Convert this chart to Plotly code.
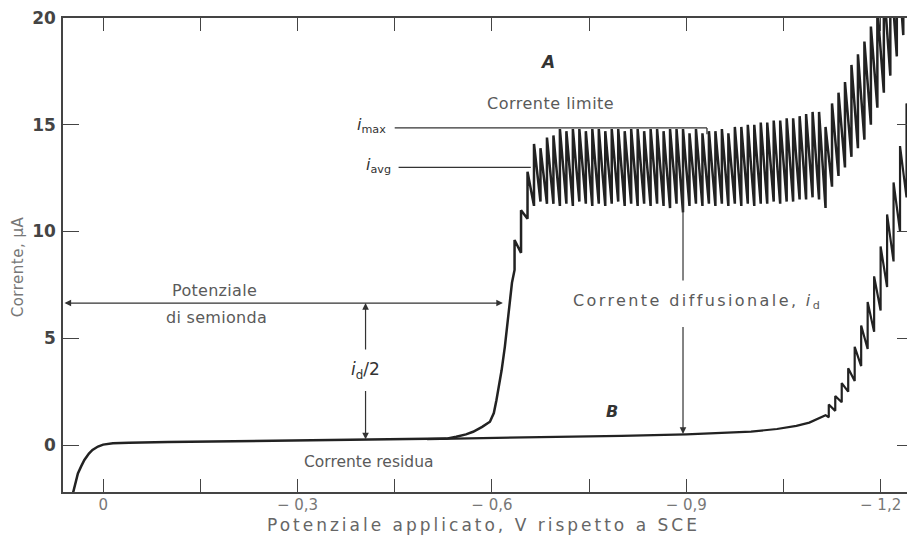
import plotly.graph_objects as go

# ---------------- data ----------------
# Curve A: smooth part (applied potential in V vs SCE, current in µA)
a_smooth_V = [0.047, 0.042, 0.039, 0.034, 0.029, 0.022, 0.0165, 0.008, 0.0, -0.015,
              -0.04, -0.10, -0.20, -0.30, -0.40, -0.50, -0.53, -0.545, -0.56, -0.571,
              -0.585, -0.597, -0.603, -0.607, -0.611, -0.615, -0.62, -0.624, -0.628, -0.631]
a_smooth_I = [-2.3, -1.7, -1.33, -1.0, -0.70, -0.40, -0.23, -0.07, 0.02, 0.08,
              0.11, 0.14, 0.18, 0.21, 0.25, 0.28, 0.30, 0.39, 0.50, 0.62,
              0.85, 1.09, 1.5, 2.1, 2.8, 3.5, 4.6, 5.6, 6.6, 7.6]

# Curve A: mercury-drop oscillations (potential of each drop, min and max current)
a_drop_V = [-0.635, -0.645, -0.655, -0.665, -0.675, -0.685, -0.695, -0.705, -0.715, -0.725,
            -0.735, -0.745, -0.755, -0.765, -0.775, -0.785, -0.795, -0.805, -0.815, -0.825,
            -0.835, -0.845, -0.855, -0.865, -0.875, -0.885, -0.895, -0.905, -0.915, -0.925,
            -0.935, -0.945, -0.955, -0.965, -0.975, -0.985, -0.995, -1.005, -1.015, -1.025,
            -1.035, -1.045, -1.055, -1.065, -1.075, -1.085, -1.095, -1.105, -1.115, -1.125,
            -1.135, -1.145, -1.155, -1.165, -1.175, -1.185, -1.195, -1.205, -1.215, -1.225,
            -1.235, -1.245]
a_drop_low = [8.2, 9.0, 10.6, 11.2, 11.4, 11.3, 11.3, 11.2, 11.3, 11.2,
              11.4, 11.3, 11.2, 11.3, 11.2, 11.3, 11.4, 11.2, 11.3, 11.2,
              11.3, 11.2, 11.3, 11.2, 11.1, 11.3, 10.9, 11.2, 11.3, 11.2,
              11.3, 11.2, 11.3, 11.2, 11.3, 11.2, 11.3, 11.2, 11.3, 11.3,
              11.4, 11.3, 11.4, 11.4, 11.5, 11.5, 11.6, 11.5, 11.1, 12.1,
              12.6, 13.0, 13.5, 13.9, 14.3, 15.0, 15.8, 16.5, 17.3, 18.2,
              19.2, 20.5]
a_drop_high = [9.6, 11.0, 12.8, 14.1, 13.9, 14.4, 14.5, 14.8, 14.7, 14.8,
               14.8, 14.7, 14.8, 14.8, 14.7, 14.8, 14.8, 14.7, 14.8, 14.8,
               14.7, 14.8, 14.8, 14.7, 14.8, 14.8, 14.8, 14.6, 14.8, 14.6,
               14.7, 14.7, 14.8, 14.6, 14.9, 14.9, 15.0, 15.0, 15.1, 15.1,
               15.2, 15.2, 15.3, 15.3, 15.4, 15.5, 15.6, 15.6, 14.9, 16.0,
               16.5, 17.0, 17.8, 18.3, 18.9, 19.6, 20.5, 21.5, 22.5, 23.5,
               24.5, 25.5]

# Curve B (residual current only): smooth part and drop oscillations
b_smooth_V = [-0.50, -0.60, -0.70, -0.80, -0.90, -0.95, -1.00, -1.04, -1.07, -1.09, -1.105, -1.115]
b_smooth_I = [0.28, 0.32, 0.37, 0.43, 0.50, 0.55, 0.63, 0.75, 0.90, 1.05, 1.25, 1.40]
b_drop_V = [-1.12, -1.13, -1.14, -1.15, -1.16, -1.17, -1.18, -1.19, -1.20, -1.21,
            -1.22, -1.23, -1.24, -1.25]
b_drop_low = [1.3, 1.6, 2.0, 2.5, 3.0, 3.7, 4.5, 5.3, 6.3, 7.4, 8.6, 10.0, 11.6, 13.4]
b_drop_high = [1.9, 2.3, 2.9, 3.6, 4.6, 5.6, 6.7, 7.9, 9.3, 10.8, 12.3, 14.0, 16.0, 18.0]

# Reference levels used by the annotations
i_max = 14.85          # µA
i_avg = 13.0           # µA
i_half = 6.65          # µA (i_d / 2 level)
E_half = -0.62         # V, half-wave potential
i_residual_half = 0.27
E_half_arrow = -0.405  # V, position of the i_d/2 arrow
E_diff = -0.895        # V, position of the i_d arrow
i_residual_diff = 0.52

# Axis ticks
x_tickvals = [0, -0.15, -0.3, -0.45, -0.6, -0.75, -0.9, -1.05, -1.2]
x_ticktext = ["0", "", "− 0,3", "", "− 0,6", "", "− 0,9", "", "− 1,2"]
y_tickvals = [0, 5, 10, 15, 20]
y_ticktext = ["0", "5", "10", "15", "20"]


def sawtooth(vs, lows, highs):
    xs, ys = [], []
    for v, lo, hi in zip(vs, lows, highs):
        xs += [v, v]
        ys += [lo, hi]
    return xs, ys


ax_a, ay_a = sawtooth(a_drop_V, a_drop_low, a_drop_high)
ax_b, ay_b = sawtooth(b_drop_V, b_drop_low, b_drop_high)

CURVE = "#222222"
TEXT = "#5a5a5a"
FONT = "DejaVu Sans"


def spaced(text, px):
    return '<span style="letter-spacing:%.1fpx">%s</span>' % (px, text)


fig = go.Figure()
fig.add_trace(go.Scatter(x=b_smooth_V + ax_b, y=b_smooth_I + ay_b, mode="lines",
                         line=dict(color=CURVE, width=2.2), hoverinfo="skip", name="B"))
fig.add_trace(go.Scatter(x=a_smooth_V + ax_a, y=a_smooth_I + ay_a, mode="lines",
                         line=dict(color=CURVE, width=2.5), hoverinfo="skip", name="A"))

shapes = [
    dict(type="line", xref="x", yref="y", x0=-0.45, x1=-0.932, y0=i_max, y1=i_max,
         line=dict(color="#333", width=1.3)),
    dict(type="line", xref="x", yref="y", x0=-0.932, x1=-0.932, y0=i_max, y1=i_max - 0.3,
         line=dict(color="#333", width=1.3)),
    dict(type="line", xref="x", yref="y", x0=-0.456, x1=-0.66, y0=i_avg, y1=i_avg,
         line=dict(color="#333", width=1.3)),
    dict(type="line", xref="x", yref="y", x0=E_diff, x1=E_diff, y0=i_avg, y1=7.7,
         line=dict(color="#333", width=1.2)),
]

ann = []
ann.append(dict(x=E_half + 0.003, y=i_half, ax=0.062, ay=i_half, xref="x", yref="y",
                axref="x", ayref="y", text="", showarrow=True, arrowside="end+start",
                arrowhead=2, arrowsize=1.1, arrowwidth=1.2, arrowcolor="#333"))
ann.append(dict(x=E_half_arrow, y=i_half, ax=E_half_arrow, ay=4.4, xref="x", yref="y",
                axref="x", ayref="y", text="", showarrow=True, arrowhead=2,
                arrowsize=1.1, arrowwidth=1.2, arrowcolor="#333"))
ann.append(dict(x=E_half_arrow, y=i_residual_half, ax=E_half_arrow, ay=2.6, xref="x", yref="y",
                axref="x", ayref="y", text="", showarrow=True, arrowhead=2,
                arrowsize=1.1, arrowwidth=1.2, arrowcolor="#333"))
ann.append(dict(x=E_diff, y=i_residual_diff, ax=E_diff, ay=5.6, xref="x", yref="y",
                axref="x", ayref="y", text="", showarrow=True, arrowhead=2,
                arrowsize=1.1, arrowwidth=1.2, arrowcolor="#333"))


def label(x, y, text, size=16, color=TEXT, xanchor="center", ref="x", yref="y", angle=0):
    ann.append(dict(x=x, y=y, xref=ref, yref=yref, text=text, showarrow=False,
                    xanchor=xanchor, yanchor="middle", textangle=angle,
                    font=dict(family=FONT, size=size, color=color)))


label(-0.686, 17.94, "<b><i>A</i></b>", size=17, color="#333")
label(-0.691, 16.0, spaced("Corrente limite", 0.5), size=16)
label(-0.439, 14.95, "<i>i</i><sub>max</sub>", size=16, color="#333", xanchor="right")
label(-0.447, 13.1, "<i>i</i><sub>avg</sub>", size=16, color="#333", xanchor="right")
label(-0.172, 7.26, spaced("Potenziale", 0.3), size=16)
label(-0.175, 5.95, spaced("di semionda", 0.3), size=16)
label(E_half_arrow, 3.5, "<i>i</i><sub>d</sub>/2", size=17, color="#333")
label(-0.918, 6.74, spaced("Corrente diffusionale, <i>i</i><sub>d</sub>", 2.4), size=16)
label(-0.785, 1.55, "<b><i>B</i></b>", size=16, color="#333")
label(-0.41, -0.8, "Corrente residua", size=15.5)

# axis titles (paper coordinates)
label(0.495, -0.07, spaced("Potenziale applicato, V rispetto a SCE", 3.0), size=17,
      color="#666", ref="paper", yref="paper")
label(-0.053, 0.476, spaced("Corrente, µA", 0.5), size=15, color="#777",
      ref="paper", yref="paper", angle=-90)

# The page body has an 8 px margin, so the figure is sized to fit the 915x537 window
fig.update_layout(
    width=907, height=529,
    margin=dict(l=55, r=2, t=10, b=45),
    paper_bgcolor="white", plot_bgcolor="white",
    showlegend=False,
    shapes=shapes, annotations=ann,
    font=dict(family=FONT, color=TEXT),
    xaxis=dict(range=[0.062, -1.25], tickvals=x_tickvals, ticktext=x_ticktext,
               ticks="inside", ticklen=13, tickwidth=1.3, tickcolor="#444",
               showline=True, linecolor="#444", linewidth=1.5, mirror="ticks",
               showgrid=False, zeroline=False, automargin=False, ticklabelstandoff=-2,
               ticklabeloverflow="allow",
               tickfont=dict(family=FONT, size=15, color="#777")),
    yaxis=dict(range=[-2.2, 20], tickvals=y_tickvals, ticktext=y_ticktext,
               ticks="inside", ticklen=16, tickwidth=1.3, tickcolor="#444",
               showline=True, linecolor="#444", linewidth=1.5, mirror="ticks",
               showgrid=False, zeroline=False, automargin=False, ticklabelstandoff=2,
               ticklabeloverflow="allow",
               tickfont=dict(family=FONT, size=17, color="#444", weight="bold")),
)

fig.write_html("out.html")
